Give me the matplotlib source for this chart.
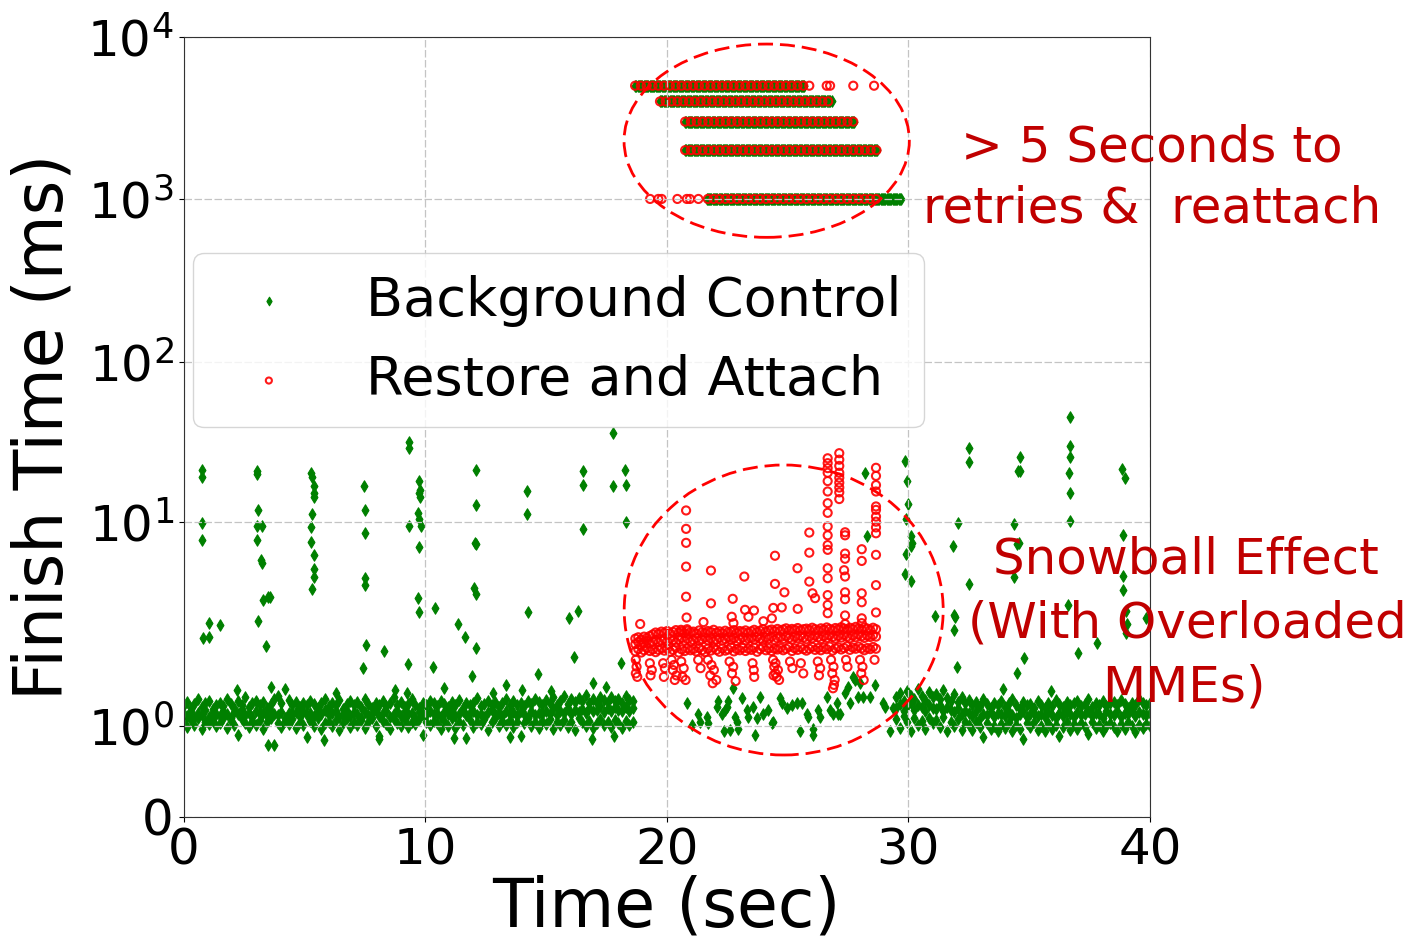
import numpy as np
import matplotlib
matplotlib.use("Agg")
import matplotlib.pyplot as plt
from matplotlib.patches import Ellipse
from matplotlib.ticker import NullLocator

# ---------- DATA ----------
# background control band, one sample every 0.15 s, finish time in 1/100 ms
bg_step = 0.15
bg_left_start = 0.0
bg_left_hi = [126, 131, 122, 128, 135, 124, 129, 133, 121, 127,
              130, 125, 136, 128, 123, 132, 127, 138, 124, 129,
              133, 126, 131, 122, 128, 135, 141, 129, 152, 134,
              127, 131, 124, 130, 126, 133, 128, 122, 129, 135,
              125, 130, 127, 134, 121, 128, 132, 126, 131, 124,
              136, 128, 123, 130, 127, 133, 125, 129, 138, 126,
              131, 124, 128, 135, 127, 122, 130, 126, 133, 129,
              125, 132, 128, 124, 131, 127, 134, 123, 129, 126,
              130, 137, 125, 128, 133, 126, 131, 124, 129, 135,
              127, 132, 126, 130, 125, 133, 128, 136, 131, 127,
              134, 129, 138, 126, 132, 140, 128, 135, 131, 137,
              133, 142, 130, 136, 129, 139, 134, 131, 138, 133,
              136, 130, 141, 134, 132]
bg_left_mid = [115, 112, 118, 110, 116, 113, 120, 111, 117, 114,
               112, 119, 114, 110, 117, 115, 121, 113, 116, 111,
               118, 114, 116, 112, 119, 115, 113, 117, 110, 116,
               114, 117, 111, 119, 113, 116, 112, 118, 115, 120,
               113, 116, 119, 111, 115, 118, 112, 117, 114, 110,
               117, 113, 115, 120, 112, 116, 118, 111, 114, 119,
               112, 118, 114, 116, 110, 117, 115, 113, 119, 114,
               116, 111, 117, 114, 119, 112, 115, 118, 113, 116,
               118, 113, 115, 111, 117, 120, 114, 116, 112, 118,
               114, 117, 112, 119, 115, 111, 118, 113, 116, 114,
               119, 115, 121, 113, 118, 116, 122, 114, 120, 117,
               121, 116, 123, 118, 120, 125, 117, 122, 119, 124,
               120, 118, 124, 119, 122]
bg_left_lo = [104, 99, 107, 101, 110, 97, 105, 102, 108, 100,
              103, 109, 98, 106, 101, 90, 108, 103, 99, 106,
              101, 107, 97, 104, 110, 79, 103, 99, 106, 102,
              108, 98, 104, 101, 88, 106, 100, 109, 97, 103,
              105, 100, 107, 96, 103, 110, 99, 104, 101, 107,
              98, 104, 109, 100, 89, 106, 102, 97, 108, 103,
              100, 107, 99, 105, 102, 108, 90, 104, 101, 106,
              103, 97, 106, 100, 109, 98, 104, 101, 87, 107,
              99, 105, 102, 108, 96, 104, 110, 100, 106, 101,
              107, 99, 104, 89, 103, 109, 100, 105, 98, 106,
              102, 108, 97, 105, 101, 107, 99, 104, 96, 109,
              104, 100, 106, 98, 103, 108, 101, 105, 99, 107,
              103, 98, 106, 101, 104]
bg_right_start = 29.5
bg_right_hi = [138, 145, 132, 149, 141, 136, 152, 140, 134, 147,
               139, 143, 135, 150, 137, 133, 144, 131, 138, 129,
               134, 127, 131, 125, 136, 128, 122, 130, 126, 133,
               124, 129, 135, 127, 121, 131, 126, 128, 123, 132,
               127, 122, 130, 125, 134, 128, 124, 131, 126, 129,
               133, 125, 128, 136, 124, 130, 127, 132, 125, 129,
               131, 126, 134, 128, 123, 130, 127, 135, 129, 126,
               130]
bg_right_mid = [122, 128, 118, 125, 130, 120, 127, 124, 119, 126,
                123, 121, 126, 118, 124, 120, 117, 122, 115, 119,
                116, 112, 118, 110, 115, 113, 117, 111, 116, 114,
                112, 117, 113, 110, 115, 118, 111, 114, 116, 112,
                115, 111, 117, 113, 110, 116, 112, 118, 114, 111,
                117, 113, 115, 119, 112, 116, 114, 110, 118, 115,
                113, 118, 111, 116, 114, 119, 112, 117, 115, 113,
                116]
bg_right_lo = [108, 98, 112, 104, 95, 110, 101, 106, 97, 109,
               103, 107, 99, 111, 94, 105, 100, 108, 96, 104,
               101, 96, 105, 99, 88, 103, 97, 100, 94, 102,
               98, 104, 95, 101, 97, 86, 103, 99, 105, 96,
               100, 94, 103, 97, 101, 89, 99, 104, 96, 102,
               97, 103, 99, 91, 104, 98, 101, 95, 100, 103,
               99, 95, 102, 97, 104, 100, 93, 101, 98, 102,
               100]

# background control, individual points (time s, finish ms)
bg_pts_t = [0.78, 0.78, 0.78, 0.78, 1.07, 0.79, 1.07, 1.51,
            3.03, 3.03, 3.07, 3.03, 3.24, 3.03, 3.2, 3.24, 3.28, 3.51, 3.58, 3.07, 3.42,
            5.26, 5.31, 5.42, 5.42, 5.42, 5.31, 5.28, 5.26, 5.42, 5.4, 5.42, 5.33,
            7.47, 7.51, 7.5, 7.49, 7.51, 7.55, 7.43, 8.3,
            9.35, 9.35, 9.35, 9.76, 9.8, 9.74, 9.8, 9.72, 9.76, 9.82, 9.74, 9.72, 9.76,
            10.41, 10.31, 9.29, 11.38, 11.65, 12.09, 12.09, 12.06, 12.09, 12.04, 12.09,
            12.12, 11.93, 14.2, 14.2, 14.25, 14.66, 16.52, 16.52, 16.55, 15.97, 16.34,
            16.18, 17.76, 17.79, 18.27, 18.32, 18.32, 18.11,
            2.2, 3.6, 6.3, 8.75, 12.8, 13.35, 14.0, 15.2, 16.94, 17.5, 9.23, 10.78,
            3.5, 5.8, 8.1, 11.2, 13.5, 16.9, 17.8,
            20.83, 21.03, 21.31, 21.38, 21.66, 21.72, 22.07, 22.13, 22.28, 22.41, 22.48,
            22.55, 22.37, 22.62, 22.96, 22.76, 22.83, 22.9, 23.1, 23.31, 23.38, 23.59,
            23.73, 23.66, 23.86, 24.0, 24.21, 24.35, 24.41, 24.69, 24.76, 24.97, 25.17,
            25.38, 25.52, 25.59, 25.8, 25.86, 26.07, 26.07, 26.28, 26.35, 26.62, 26.76,
            26.9, 27.04, 27.1, 27.17, 27.38, 27.52, 27.59, 27.72, 27.79, 27.93, 28.0,
            28.14, 28.41, 28.62, 28.97, 29.03, 29.24, 29.38,
            28.21, 28.28, 29.86, 29.96, 29.97, 29.9, 30.1, 30.14, 30.1, 29.9, 29.86, 30.1,
            31.1, 31.88, 31.95, 31.9, 32.0, 31.84, 32.07, 32.53, 32.51, 32.53,
            33.93, 34.39, 34.39, 34.51, 34.58, 34.62, 34.55, 34.62, 34.51, 34.79,
            35.9, 36.62, 36.69, 36.68, 36.68, 36.65, 36.67, 36.69, 37.04, 37.82,
            38.83, 38.97, 38.87, 38.87, 38.87, 39.0, 39.03, 39.0, 39.83]
bg_pts_ms = [21.1, 19.2, 9.9, 8.2, 3.2, 2.69, 2.72, 3.13,
             20.8, 19.9, 11.8, 9.6, 9.5, 8.2, 6.5, 6.3, 4.15, 4.27, 4.3, 3.28, 2.47,
             20.3, 19.2, 16.8, 15.1, 14.3, 11.2, 9.4, 7.94, 6.9, 5.9, 5.4, 4.68,
             16.8, 11.8, 8.8, 5.3, 4.9, 2.49, 1.92, 2.34,
             31.8, 29.1, 9.6, 18.0, 15.8, 15.1, 14.4, 11.3, 10.5, 9.6, 7.57, 4.23, 3.63,
             3.8, 1.94, 2.01, 3.16, 2.74, 21.0, 12.8, 7.9, 7.8, 4.73, 4.42,
             2.4, 1.76, 15.5, 11.2, 3.63, 1.8, 20.8, 17.0, 9.2, 3.37, 3.66,
             2.19, 35.8, 16.8, 21.1, 16.9, 10.0, 2.03,
             1.5, 1.55, 1.45, 1.5, 1.45, 1.59, 1.5, 1.48, 1.62, 1.55, 1.45, 1.53,
             0.79, 0.85, 0.86, 0.87, 0.88, 0.86, 0.89,
             1.29, 1.01, 1.15, 1.05, 1.11, 1.03, 1.24, 1.32, 1.15, 1.20, 1.24,
             1.32, 0.94, 0.96, 0.97, 1.53, 1.11, 1.05, 1.37, 1.20, 1.11, 1.24,
             1.09, 0.90, 1.39, 1.15, 1.20, 1.03, 1.05, 1.37, 1.29, 1.22, 1.27,
             1.29, 0.94, 1.29, 1.15, 1.11, 0.97, 0.90, 1.20, 1.11, 1.39, 1.20,
             1.15, 1.29, 1.15, 1.15, 1.45, 1.56, 1.29, 1.74, 1.68, 1.39, 1.62,
             1.39, 1.39, 1.59, 1.29, 1.24, 0.94, 1.22,
             20.3, 8.5, 24.1, 18.0, 12.9, 10.4, 8.5, 7.9, 7.65, 7.0, 5.56, 5.15,
             3.46, 3.5, 3.41, 2.95, 1.95, 7.65, 9.9, 4.95, 28.9, 23.6,
             1.51, 9.8, 5.36, 7.8, 7.9, 25.4, 20.9, 20.9, 1.82, 2.15,
             1.48, 3.92, 45.5, 30.0, 25.6, 20.3, 15.1, 10.1, 2.27, 2.54,
             21.3, 18.7, 8.6, 5.46, 4.64, 3.67, 3.16, 2.87, 3.37]

# retry plateaus (start s, end s, finish ms), seen in both series
plateau_start = [18.69, 19.72, 20.76, 20.76, 21.65]
plateau_end = [25.72, 26.83, 27.80, 28.76, 29.73]
plateau_ms = [5000, 4000, 3000, 2000, 1000]
ra_plateau_start = [18.69, 19.72, 20.76, 20.76, 21.70]
ra_plateau_end = [25.72, 26.83, 27.80, 28.76, 28.83]
bg_plateau_step = 0.05
ra_plateau_step = 0.24
ra_extra_t = [25.9, 26.62, 26.76, 27.72, 28.58, 19.31, 19.65, 19.79, 20.44, 20.83, 20.96, 21.31]
ra_extra_ms = [5000, 5000, 5000, 5000, 5000, 1000, 1000, 1000, 1000, 1000, 1000, 1000]

# restore and attach band, one sample every 0.12 s from 18.7 s, in 1/100 ms
ra_step = 0.12
ra_start = 18.7
ra_hi = [268, 272, 265, 274, 270, 276, 281, 287, 283, 290,
         286, 292, 284, 289, 295, 287, 291, 285, 293, 288,
         290, 284, 294, 288, 286, 292, 289, 296, 287, 291,
         285, 293, 288, 290, 295, 286, 292, 289, 294, 287,
         291, 296, 289, 293, 298, 290, 294, 297, 292, 299,
         293, 297, 301, 294, 299, 296, 302, 295, 298, 300,
         296, 303, 298, 294, 301, 297, 304, 299, 295, 302,
         298, 305, 300, 296, 303, 299, 306, 301, 297, 304,
         300, 296, 303, 298]
ra_mid = [252, 258, 249, 255, 261, 254, 259, 264, 257, 262,
          266, 260, 268, 263, 257, 265, 270, 262, 267, 259,
          264, 269, 261, 266, 271, 263, 268, 260, 265, 270,
          262, 267, 272, 264, 269, 261, 266, 271, 263, 268,
          270, 265, 273, 268, 262, 271, 267, 274, 264, 269,
          272, 267, 275, 270, 265, 273, 269, 276, 271, 266,
          274, 269, 277, 272, 267, 275, 270, 278, 273, 268,
          276, 271, 279, 274, 269, 277, 272, 280, 275, 270,
          277, 273, 279, 274]
ra_lo = [232, 238, 229, 235, 241, 233, 237, 230, 236, 240,
         234, 239, 231, 236, 242, 229, 237, 233, 240, 235,
         238, 232, 241, 235, 230, 239, 234, 242, 236, 231,
         240, 234, 237, 243, 232, 238, 235, 241, 233, 239,
         236, 242, 231, 238, 244, 235, 240, 233, 239, 237,
         241, 235, 239, 244, 233, 240, 236, 243, 238, 234,
         239, 244, 236, 241, 235, 242, 238, 245, 234, 240,
         243, 237, 241, 246, 236, 242, 239, 245, 240, 235,
         241, 238, 244, 239]

# restore and attach, individual points (time s, finish ms)
ra_pts_t = [18.72, 18.75, 18.72, 18.78, 19.3, 19.38, 19.33, 19.85, 19.92, 19.88,
            20.2, 20.3, 20.25, 20.4, 20.33, 20.6, 20.7, 20.65, 20.78, 21.3, 21.4,
            21.7, 21.85, 21.95, 21.8, 22.05, 21.9, 22.6, 22.75, 22.7, 22.85,
            23.55, 23.6, 23.62, 24.4, 24.5, 24.45, 24.6, 24.5, 24.55, 24.65, 24.42,
            25.1, 25.2, 25.55, 25.65, 26.25, 26.35, 26.3,
            26.8, 26.9, 26.85, 26.95, 26.92, 26.88, 27.42, 27.48,
            28.0, 28.1, 28.05, 28.15, 28.6,
            18.9, 20.8, 20.8, 20.8, 20.8, 20.8, 20.82, 20.84,
            20.59, 21.52, 21.83, 21.83, 22.73, 22.69, 22.76, 23.21, 23.24, 23.38, 23.61,
            24.0, 24.35, 24.41, 24.48, 24.48, 24.76, 24.87, 25.41, 25.42, 25.9, 25.9,
            25.9, 26.03, 26.14,
            26.66, 26.66, 26.66, 26.66, 26.66, 26.66, 26.66, 26.66, 26.66, 26.66,
            26.66, 26.66, 26.66, 26.66, 26.66, 26.66, 26.66,
            27.14, 27.14, 27.14, 27.14, 27.14, 27.14, 27.14, 27.14, 27.14,
            27.38, 27.38, 27.38, 27.38, 27.34, 27.38, 27.38, 27.38, 27.38, 27.38,
            28.07, 28.07, 28.07, 28.07, 28.07, 28.07,
            28.66, 28.66, 28.66, 28.66, 28.66, 28.66, 28.66, 28.66, 28.66, 28.66,
            28.66, 28.66, 28.66]
ra_pts_ms = [2.11, 1.95, 1.81, 1.74, 2.03, 1.88, 1.77, 2.03, 1.92, 1.74,
             2.11, 1.99, 1.88, 1.77, 1.68, 2.07, 1.92, 1.74, 1.68, 2.11, 1.92,
             2.11, 1.99, 1.88, 1.77, 1.68, 1.62, 2.07, 1.95, 1.81, 1.66,
             2.03, 1.88, 1.74, 2.11, 2.03, 1.95, 1.88, 1.81, 1.74, 1.68, 1.77,
             2.07, 1.92, 2.03, 1.81, 2.07, 1.92, 1.77,
             2.11, 1.95, 1.81, 1.68, 1.59, 1.53, 2.11, 1.95,
             2.11, 1.95, 1.81, 1.68, 2.11,
             3.16, 11.8, 9.25, 7.9, 6.04, 4.3, 3.4, 2.98,
             2.96, 3.23, 5.78, 3.99, 4.2, 3.43, 3.19, 5.4, 3.71, 3.43, 3.68,
             3.26, 3.37, 3.79, 6.83, 4.97, 3.81, 4.52, 5.93, 3.75, 8.87, 7.07,
             5.1, 4.47, 4.23,
             25.0, 23.3, 21.7, 20.3, 18.0, 15.5, 13.1, 11.4, 9.5, 8.6,
             7.7, 7.3, 5.93, 5.3, 4.38, 3.92, 3.57,
             26.9, 24.5, 22.4, 20.3, 18.9, 17.6, 16.4, 15.3, 13.9,
             8.9, 8.6, 7.0, 6.6, 5.8, 5.4, 4.52, 4.18, 3.48, 3.16,
             7.35, 6.44, 4.47, 4.04, 3.37, 3.19,
             21.8, 19.4, 17.0, 15.5, 12.5, 11.9, 10.8, 10.04, 9.4, 8.8,
             6.9, 4.9, 3.6]

xticks = [0, 10, 20, 30, 40]
yticks = [0, 1, 10, 100, 1000, 10000]
yticklabels = ["0", "$10^0$", "$10^1$", "$10^2$", "$10^3$", "$10^4$"]

# ---------- Y SCALE (linear below 1, stretched log decades above) ----------
knot_t = [0, 1, 2, 3, 4, 5]
knot_h = [0, 91, 295, 455, 618, 780]


def y_forward(v):
    v = np.asarray(v, dtype=float)
    t = np.where(v <= 1, v, 1 + np.log10(np.maximum(v, 1)))
    return np.interp(t, knot_t, knot_h)


def y_inverse(h):
    t = np.interp(np.asarray(h, dtype=float), knot_h, knot_t)
    return np.where(t <= 1, t, 10 ** (t - 1))


# ---------- BUILD SERIES ----------
bg_x, bg_y = [], []
for start, rows in ((bg_left_start, (bg_left_hi, bg_left_mid, bg_left_lo)),
                    (bg_right_start, (bg_right_hi, bg_right_mid, bg_right_lo))):
    for row in rows:
        bg_x.extend(start + bg_step * np.arange(len(row)))
        bg_y.extend(np.array(row) / 100.0)
for s, e, v in zip(plateau_start, plateau_end, plateau_ms):
    xs = np.arange(s, e, bg_plateau_step)
    bg_x.extend(xs)
    bg_y.extend([v] * len(xs))
bg_x.extend(bg_pts_t)
bg_y.extend(bg_pts_ms)

ra_x, ra_y = [], []
for row in (ra_hi, ra_mid, ra_lo):
    ra_x.extend(ra_start + ra_step * np.arange(len(row)))
    ra_y.extend(np.array(row) / 100.0)
for s, e, v in zip(ra_plateau_start, ra_plateau_end, plateau_ms):
    xs = np.arange(s, e, ra_plateau_step)
    ra_x.extend(xs)
    ra_y.extend([v] * len(xs))
ra_x.extend(ra_extra_t + ra_pts_t)
ra_y.extend(ra_extra_ms + ra_pts_ms)

# ---------- PLOT ----------
fig = plt.figure(figsize=(14.25, 9.4), dpi=100)
ax = fig.add_axes([0.1288, 0.1309, 0.6782, 0.8298])
ax.set_yscale("function", functions=(y_forward, y_inverse))

ax.scatter(bg_x, bg_y, marker="d", s=34, color="green", edgecolors="green",
           linewidths=0.8, label="Background Control")
ax.scatter(ra_x, ra_y, marker="o", s=34, facecolors="none", edgecolors="red",
           linewidths=1.5, alpha=0.9, label="Restore and Attach")

ax.set_xlim(0, 40)
ax.set_ylim(0, 10000)
ax.set_xticks(xticks)
ax.set_yticks(yticks)
ax.set_yticklabels(yticklabels)
ax.yaxis.set_minor_locator(NullLocator())
ax.tick_params(labelsize=36)
ax.grid(True, linestyle=(0, (6, 2)), color="#c4c4c4", linewidth=0.9)
for sp in ax.spines.values():
    sp.set_color("#333333")

ax.set_xlabel("Time (sec)", fontsize=48, labelpad=0)
ax.set_ylabel("Finish Time (ms)", fontsize=48, labelpad=8)

ax.legend(loc="upper left", bbox_to_anchor=(0.0098, 0.723), borderaxespad=0,
          fontsize=39, scatterpoints=1, markerscale=0.75)

# ---------- ANNOTATIONS ----------
W, H = 1425.0, 940.0
red = "#c00000"
for txt, x, y in [("> 5 Seconds to", 1152, 161),
                  ("retries &  reattach", 1152, 222),
                  ("Snowball Effect", 1186, 573),
                  ("(With Overloaded", 1187, 638),
                  ("MMEs)", 1184, 702)]:
    fig.text(x / W, 1 - y / H, txt, ha="center", va="baseline",
             fontsize=36, color=red)

for cx, cy, w, h in [(766.7, 140.7, 285.3, 193.3), (783.7, 610.0, 319.0, 290.0)]:
    fig.add_artist(Ellipse((cx / W, 1 - cy / H), w / W, h / H,
                           transform=fig.transFigure, fill=False,
                           edgecolor="red", linewidth=2.0,
                           linestyle=(0, (5.4, 2.5))))

fig.savefig("out.png", dpi=100)
